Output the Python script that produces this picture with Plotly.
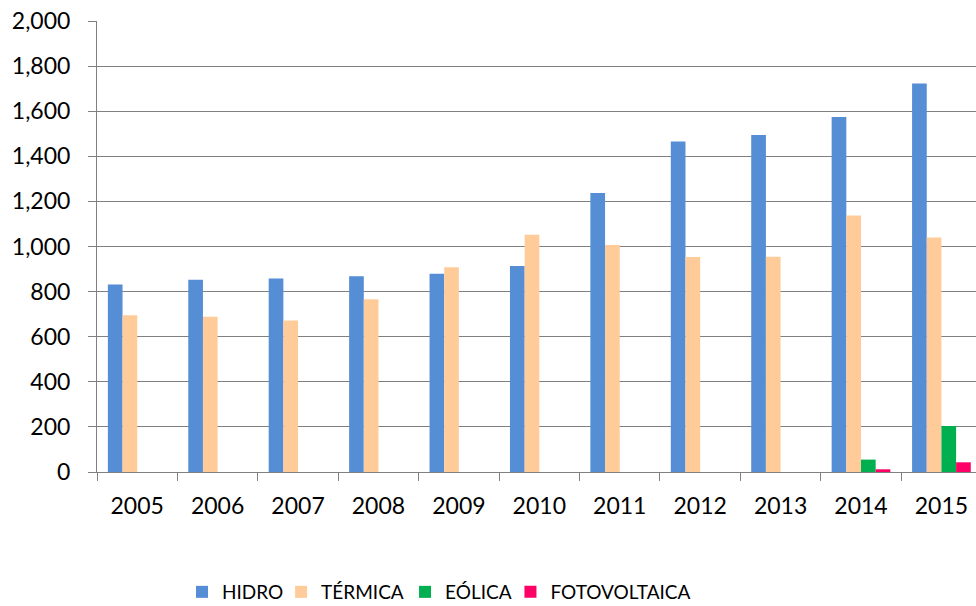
import plotly.graph_objects as go

years = ["2005", "2006", "2007", "2008", "2009", "2010", "2011", "2012", "2013", "2014", "2015"]
hidro = [831, 852, 858, 868, 879, 913, 1237, 1466, 1494, 1574, 1723]
termica = [695, 688, 672, 766, 908, 1052, 1007, 953, 954, 1138, 1040]
eolica = [0, 0, 0, 0, 0, 0, 0, 0, 0, 55, 204]
fotovoltaica = [0, 0, 0, 0, 0, 0, 0, 0, 0, 12, 43]
y_ticks = [0, 200, 400, 600, 800, 1000, 1200, 1400, 1600, 1800, 2000]

series = [
    ("HIDRO", hidro, "#558ED5", "legend", 0.1865),
    ("TÉRMICA", termica, "#FFCC99", "legend2", 0.2880),
    ("EÓLICA", eolica, "#00B050", "legend3", 0.4150),
    ("FOTOVOLTAICA", fotovoltaica, "#FF0066", "legend4", 0.5230),
]

FONT = "Lato"
fig = go.Figure()
legends = {}
for name, vals, color, leg, lx in series:
    fig.add_trace(go.Bar(x=years, y=vals, name=name, legend=leg,
                         marker=dict(color=color, line=dict(width=0))))
    legends[leg] = dict(orientation="h", xref="container", yref="container",
                        x=lx, y=0.0231, xanchor="left", yanchor="middle",
                        font=dict(family=FONT, size=19, color="#000000"),
                        itemwidth=30, bgcolor="rgba(0,0,0,0)")

fig.update_layout(
    width=976, height=606,
    margin=dict(l=97, r=0, t=21, b=134, pad=0),
    paper_bgcolor="white", plot_bgcolor="white",
    barmode="group", bargap=0.27, bargroupgap=0,
    font=dict(family=FONT, size=23, color="#000000"),
    showlegend=True,
    **legends,
)
fig.update_xaxes(
    type="category", range=[-0.5, 10.43],
    tickson="boundaries", ticks="outside", ticklen=8, tickcolor="#808080", tickwidth=1,
    showline=True, linecolor="#808080", linewidth=1,
    showgrid=False, ticklabelstandoff=13,
)
fig.update_yaxes(
    range=[0, 2000], tickvals=y_ticks, tickformat=",",
    ticks="outside", ticklen=8, tickcolor="#808080", tickwidth=1,
    showline=True, linecolor="#808080", linewidth=1,
    showgrid=True, gridcolor="#808080", gridwidth=1,
    zeroline=False, ticklabelstandoff=13,
)

fig.write_html("out.html", config={"displayModeBar": False},
               post_script="document.body.style.margin='0';document.body.style.overflow='hidden';")
